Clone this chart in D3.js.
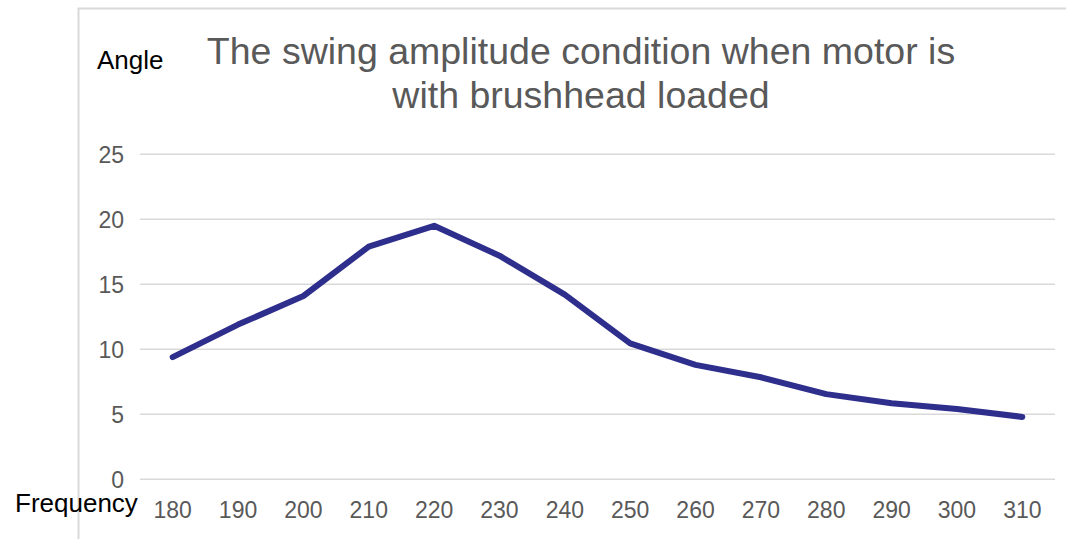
<!DOCTYPE html>
<html>
<head>
<meta charset="utf-8">
<script src="https://cdn.jsdelivr.net/npm/d3@7"></script>
<style>
  html, body { margin: 0; padding: 0; background: #fff; }
  svg { display: block; font-family: "Liberation Sans", Arial, sans-serif; }
</style>
</head>
<body>
<svg id="chart" width="1066" height="539"></svg>
<script>
const categories = ["180","190","200","210","220","230","240","250","260","270","280","290","300","310"];
const angleValues = [9.4, 11.9, 14.1, 17.9, 19.5, 17.2, 14.2, 10.45, 8.8, 7.85, 6.55, 5.85, 5.4, 4.8];
const yTicks = [0, 5, 10, 15, 20, 25];
const titleLines = ["The swing amplitude condition when motor is", "with brushhead loaded"];
const yAxisTitle = "Angle";
const xAxisTitle = "Frequency";

(function () {
const svg = d3.select("#chart");
const plotLeft = 140, plotRight = 1055, plotTop = 154.3, plotBottom = 479.3;

// chart border
svg.append("rect")
  .attr("x", 78.5).attr("y", 8.5)
  .attr("width", 1100).attr("height", 600)
  .attr("fill", "none").attr("stroke", "#d9d9d9").attr("stroke-width", 2);

const x = d3.scaleBand().domain(categories).range([plotLeft, plotRight]);
const y = d3.scaleLinear().domain([0, 25]).range([plotBottom, plotTop]);

// gridlines
svg.append("g").selectAll("line").data(yTicks).join("line")
  .attr("x1", plotLeft).attr("x2", plotRight)
  .attr("y1", d => y(d)).attr("y2", d => y(d))
  .attr("stroke", "#d9d9d9").attr("stroke-width", 1.5);

// y labels
svg.append("g").selectAll("text").data(yTicks).join("text")
  .attr("x", 124).attr("y", d => y(d) + 8.5)
  .attr("text-anchor", "end")
  .attr("font-size", 23).attr("fill", "#595959")
  .text(d => d);

// x labels
svg.append("g").selectAll("text").data(categories).join("text")
  .attr("x", d => x(d) + x.bandwidth() / 2).attr("y", 518)
  .attr("text-anchor", "middle")
  .attr("font-size", 23).attr("fill", "#595959")
  .text(d => d);

// line
const line = d3.line()
  .x((d, i) => x(categories[i]) + x.bandwidth() / 2)
  .y(d => y(d));
svg.append("path").datum(angleValues)
  .attr("d", line)
  .attr("fill", "none").attr("stroke", "#2e2e8c")
  .attr("stroke-width", 6)
  .attr("stroke-linejoin", "round").attr("stroke-linecap", "round");

// title
svg.append("text")
  .attr("x", 581).attr("y", 64)
  .attr("text-anchor", "middle")
  .attr("font-size", 37.5).attr("fill", "#595959")
  .selectAll("tspan").data(titleLines).join("tspan")
  .attr("x", 581).attr("dy", (d, i) => i === 0 ? 0 : 44)
  .text(d => d);

// axis titles
svg.append("text").attr("x", 97).attr("y", 69)
  .attr("font-size", 26).attr("fill", "#000").text(yAxisTitle);
svg.append("text").attr("x", 15).attr("y", 512)
  .attr("font-size", 26).attr("fill", "#000").text(xAxisTitle);
})();
</script>
</body>
</html>
